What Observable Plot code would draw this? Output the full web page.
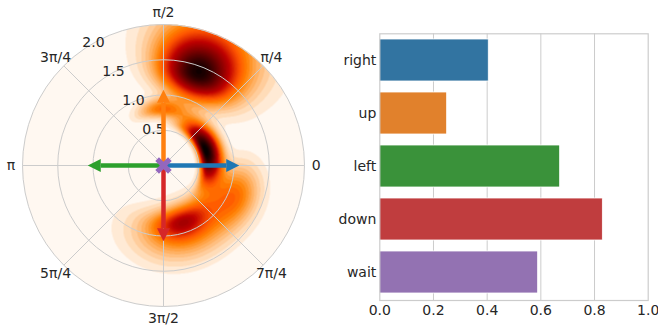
<!DOCTYPE html>
<html><head><meta charset="utf-8">
<script src="https://cdn.jsdelivr.net/npm/d3@7"></script>
<script src="https://cdn.jsdelivr.net/npm/@observablehq/plot@0.6"></script>
<style>
body{margin:0;background:#fff;}
#wrap{display:flex;width:658px;height:330px;}
svg{font-family:"DejaVu Sans",sans-serif;display:block;}
</style></head><body><div id="wrap"></div>
<script>
// ---- bar chart data ----
const actions = ["right", "up", "left", "down", "wait"];
const probs = [0.406, 0.251, 0.672, 0.831, 0.590];
const barColors = ["#3274a1", "#e1812c", "#3a923a", "#c03d3e", "#9372b2"];
const xTicks = [0, 0.2, 0.4, 0.6, 0.8, 1.0];

// ---- polar panel data ----
const arrowColors = ["#1f77b4", "#ff7f0e", "#2ca02c", "#d62728"];
const arrowAngles = [0, Math.PI / 2, Math.PI, 3 * Math.PI / 2];
const arrowLength = 0.89;
const waitColor = "#9467bd";
const ringValues = [0.5, 1.0, 1.5, 2.0];
const ringLabels = ["0.5", "1.0", "1.5", "2.0"];
const spokeAngles = [0, Math.PI / 4, Math.PI / 2, 3 * Math.PI / 4, Math.PI, 5 * Math.PI / 4, 3 * Math.PI / 2, 7 * Math.PI / 4];
const spokeLabels = ["0", "π/4", "π/2", "3π/4", "π", "5π/4", "3π/2", "7π/4"];
// density blobs (theta in degrees, radius, spreads, weight)
const blobTheta  = [70,   68,   20,   92,   -72,  -68,  -22];
const blobR      = [1.38, 1.50, 0.63, 0.80, 0.84, 0.90, 1.10];
const blobSTheta = [13,   17,   26,   16,   16,   30,   15];
const blobSRin   = [0.20, 0.33, 0.07, 0.08, 0.12, 0.22, 0.22];
const blobSRout  = [0.30, 0.55, 0.13, 0.10, 0.14, 0.30, 0.22];
const blobW      = [0.55, 0.42, 1.00, 0.26, 0.25, 0.33, 0.22];
const nLevels = 36;

function density(x, y) {
  const r = Math.hypot(x, y);
  if (r > 2) return NaN;
  const th = Math.atan2(y, x);
  let v = 0;
  for (let i = 0; i < blobW.length; i++) {
    let d = th - blobTheta[i] * Math.PI / 180;
    d = Math.atan2(Math.sin(d), Math.cos(d));
    const st = blobSTheta[i] * Math.PI / 180;
    const dr = r - blobR[i];
    const sr = dr < 0 ? blobSRin[i] : blobSRout[i];
    v += blobW[i] * Math.exp(-d * d / (2 * st * st) - dr * dr / (2 * sr * sr));
  }
  v = Math.min(v, 0.9999);
  const k = Math.floor(v * nLevels);
  return (k + 0.5) / nLevels;
}

function gistHeatR(t) {
  const x = 1 - t;
  const c = v => Math.round(255 * Math.min(1, Math.max(0, v)));
  return `rgb(${c(1.5 * x)},${c(2 * x - 1)},${c(4 * x - 3)})`;
}

const headSymbol = {draw(ctx) { ctx.moveTo(0, -6.5); ctx.lineTo(13, 0); ctx.lineTo(0, 6.5); ctx.closePath(); }};
const xSymbol = {draw(ctx) {
  const a = 9, w = 2.6;
  ctx.moveTo(-w, -a); ctx.lineTo(w, -a); ctx.lineTo(w, -w); ctx.lineTo(a, -w); ctx.lineTo(a, w);
  ctx.lineTo(w, w); ctx.lineTo(w, a); ctx.lineTo(-w, a); ctx.lineTo(-w, w); ctx.lineTo(-a, w);
  ctx.lineTo(-a, -w); ctx.lineTo(-w, -w); ctx.closePath();
}};

const cx = 163, cy = 165, R = 141;
const labAng = 124.6 * Math.PI / 180;
const textStyle = {fontFamily: "DejaVu Sans, sans-serif", fontSize: "14px", color: "#262626", background: "transparent", overflow: "visible"};

const polar = Plot.plot({
  width: 330, height: 330, margin: 0,
  x: {domain: [-2, 2], range: [cx - R, cx + R], axis: null},
  y: {domain: [-2, 2], range: [cy + R, cy - R], axis: null},
  r: {type: "linear", domain: [0, 2], range: [0, R]},
  color: {type: "linear", domain: [0, 1], interpolate: gistHeatR},
  style: textStyle,
  marks: [
    Plot.raster({x1: -2, y1: -2, x2: 2, y2: 2, fill: density, pixelSize: 0.5}),
    Plot.link(spokeAngles, {x1: () => 0, y1: () => 0, x2: a => 2 * Math.cos(a), y2: a => 2 * Math.sin(a), stroke: "#cccccc", strokeWidth: 1}),
    Plot.dot(ringValues, {x: () => 0, y: () => 0, r: d => d, stroke: "#cccccc", fill: "none", strokeWidth: 1}),
    Plot.text(spokeAngles, {x: a => 2.165 * Math.cos(a), y: a => 2.165 * Math.sin(a), text: (a, i) => spokeLabels[i], fill: "#262626", fontSize: 14}),
    Plot.text(ringValues, {x: r => r * Math.cos(labAng), y: r => r * Math.sin(labAng), dx: 10, dy: -7, text: (d, i) => ringLabels[i], fill: "#262626", fontSize: 14}),
    ...arrowAngles.map((a, i) => Plot.link([a], {x1: () => 0, y1: () => 0, x2: d => arrowLength * Math.cos(d), y2: d => arrowLength * Math.sin(d), stroke: arrowColors[i], strokeWidth: 4.5, strokeLinecap: "butt"})),
    ...arrowAngles.map((a, i) => Plot.dot([a], {x: d => arrowLength * Math.cos(d), y: d => arrowLength * Math.sin(d), symbol: headSymbol, r: 5, rotate: -a * 180 / Math.PI, fill: arrowColors[i], stroke: "none"})),
    Plot.dot([0], {x: () => 0, y: () => 0, symbol: xSymbol, r: 5, rotate: 45, fill: waitColor, stroke: "none"})
  ]
});

const bars = Plot.plot({
  width: 328, height: 330,
  marginLeft: 49.3, marginRight: 10.3, marginTop: 33.3, marginBottom: 30,
  x: {domain: [0, 1], ticks: xTicks, tickFormat: d3.format(".1f"), tickSize: 0, tickPadding: 5, label: null},
  y: {domain: actions, paddingInner: 0.2, paddingOuter: 0.1, tickSize: 0, tickPadding: 3.5, label: null},
  color: {type: "identity"},
  style: textStyle,
  marks: [
    Plot.ruleX(xTicks.slice(1, -1), {stroke: "#cccccc", strokeWidth: 1}),
    Plot.barX(actions, {y: d => d, x: (d, i) => probs[i], fill: (d, i) => barColors[i], stroke: "white", strokeWidth: 0.8}),
    Plot.frame({stroke: "#cccccc", strokeWidth: 1.2})
  ]
});

const wrap = document.getElementById("wrap");
wrap.appendChild(polar);
wrap.appendChild(bars);
</script>
</body></html>
